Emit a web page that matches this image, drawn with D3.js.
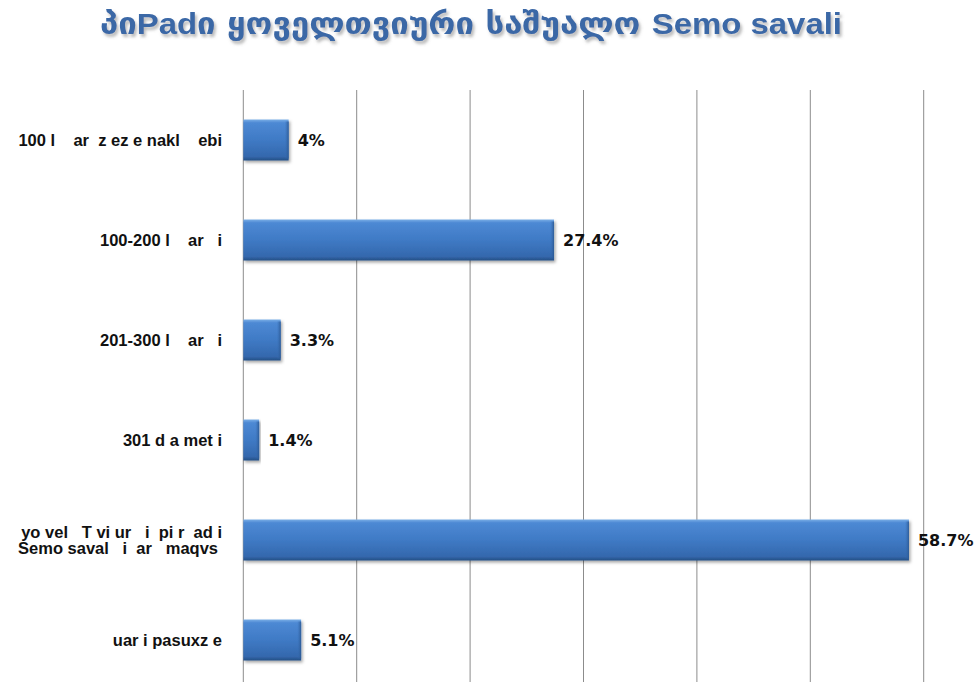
<!DOCTYPE html>
<html>
<head>
<meta charset="utf-8">
<script src="https://cdn.jsdelivr.net/npm/d3@7"></script>
<style>
  body { margin: 0; background: #fff; }
  svg { display: block; }
</style>
</head>
<body>
<svg width="976" height="682"></svg>
<script>
// data
var categories = [
  ["100 l    ar  z ez e nakl    ebi"],
  ["100-200 l    ar   i"],
  ["201-300 l    ar   i"],
  ["301 d a met i"],
  ["yo vel   T vi ur   i  pi r  ad i", "Semo saval   i  ar   maqvs"],
  ["uar i pasuxz e"]
];
var values = [4, 27.4, 3.3, 1.4, 58.7, 5.1];
var valueLabels = ["4%", "27.4%", "3.3%", "1.4%", "58.7%", "5.1%"];
var gridTicks = [0, 10, 20, 30, 40, 50, 60];

var svg = d3.select("svg");
var width = 976, height = 682;

var x = d3.scaleLinear().domain([0, 60]).range([243.3, 923.7]);
var y = d3.scaleBand().domain(d3.range(categories.length)).range([90, 690]).paddingInner(0.59).paddingOuter(0.295);

var defs = svg.append("defs");
var grad = defs.append("linearGradient").attr("id", "barGrad")
    .attr("x1", 0).attr("y1", 0).attr("x2", 0).attr("y2", 1);
grad.append("stop").attr("offset", "0%").attr("stop-color", "#7aaee6");
grad.append("stop").attr("offset", "8%").attr("stop-color", "#4d89d4");
grad.append("stop").attr("offset", "50%").attr("stop-color", "#3f7ac5");
grad.append("stop").attr("offset", "90%").attr("stop-color", "#3468ad");
grad.append("stop").attr("offset", "100%").attr("stop-color", "#254e85");

var sideGrad = defs.append("linearGradient").attr("id", "sideGrad")
    .attr("x1", 0).attr("y1", 0).attr("x2", 1).attr("y2", 0);
sideGrad.append("stop").attr("offset", "0%").attr("stop-color", "#3a70b5").attr("stop-opacity", 0);
sideGrad.append("stop").attr("offset", "100%").attr("stop-color", "#2a5791").attr("stop-opacity", 0.9);

var shadow = defs.append("filter").attr("id", "shadow")
    .attr("x", "-5%").attr("y", "-10%").attr("width", "115%").attr("height", "140%");
shadow.append("feDropShadow").attr("dx", 1.5).attr("dy", 2).attr("stdDeviation", 1.5)
    .attr("flood-color", "#000").attr("flood-opacity", 0.35);

var tshadow = defs.append("filter").attr("id", "tshadow")
    .attr("x", "-5%").attr("y", "-20%").attr("width", "110%").attr("height", "160%");
tshadow.append("feDropShadow").attr("dx", 2).attr("dy", 3).attr("stdDeviation", 1.5)
    .attr("flood-color", "#777").attr("flood-opacity", 0.5);

// title
var title = svg.append("text")
  .attr("x", 471)
  .attr("y", 34)
  .attr("text-anchor", "middle")
  .attr("fill", "#3a67a6")
  .attr("font-size", 30)
  .attr("font-weight", "bold")
  .attr("textLength", 742)
  .attr("lengthAdjust", "spacingAndGlyphs")
  .attr("filter", "url(#tshadow)");
title.append("tspan").attr("font-family", "DejaVu Sans").text("პი");
title.append("tspan").attr("font-family", "Liberation Sans, Arial").text("Pad");
title.append("tspan").attr("font-family", "DejaVu Sans").text("ი ყოველთვიური საშუალო  ");
title.append("tspan").attr("font-family", "Liberation Sans, Arial").text("Semo savali");

// vertical grid lines
svg.append("g").selectAll("line")
  .data(gridTicks)
  .enter()
  .append("line")
  .attr("x1", function(d) { return x(d); })
  .attr("x2", function(d) { return x(d); })
  .attr("y1", 90)
  .attr("y2", height)
  .attr("stroke", "#8c8c8c")
  .attr("stroke-width", 1);

// bars
var bars = svg.append("g").selectAll("g.bar")
  .data(values)
  .enter()
  .append("g")
  .attr("class", "bar");

bars.append("rect")
  .attr("x", x(0))
  .attr("y", function(d, i) { return y(i); })
  .attr("width", function(d) { return x(d) - x(0); })
  .attr("height", y.bandwidth())
  .attr("fill", "url(#barGrad)")
  .attr("filter", "url(#shadow)");

bars.append("rect")
  .attr("x", function(d) { return x(d) - 4; })
  .attr("y", function(d, i) { return y(i) + 2; })
  .attr("width", 4)
  .attr("height", y.bandwidth() - 4)
  .attr("fill", "url(#sideGrad)");

// value labels
svg.append("g").selectAll("text")
  .data(values)
  .enter()
  .append("text")
  .attr("x", function(d) { return x(d) + 9; })
  .attr("y", function(d, i) { return y(i) + y.bandwidth() / 2; })
  .attr("dy", "0.35em")
  .attr("font-family", "DejaVu Sans, Verdana, sans-serif")
  .attr("font-size", 16)
  .attr("font-weight", "bold")
  .attr("fill", "#111")
  .text(function(d, i) { return valueLabels[i]; });

// category labels
var labels = svg.append("g").selectAll("text")
  .data(categories)
  .enter()
  .append("text")
  .attr("text-anchor", "end")
  .attr("font-family", "Liberation Sans, Arial, sans-serif")
  .attr("font-size", 16.5)
  .attr("font-weight", "bold")
  .attr("fill", "#111")
  .attr("xml:space", "preserve")
  .style("white-space", "pre")
  .attr("y", function(d, i) { return y(i) + y.bandwidth() / 2; });

labels.each(function(lines) {
  var t = d3.select(this);
  var n = lines.length;
  lines.forEach(function(line, k) {
    t.append("tspan")
      .attr("x", k === 1 ? 218 : 222)
      .attr("dy", k === 0 ? ((0.35 - (n - 1) * 0.5) + "em") : "1.0em")
      .text(line);
  });
});
</script>
</body>
</html>
